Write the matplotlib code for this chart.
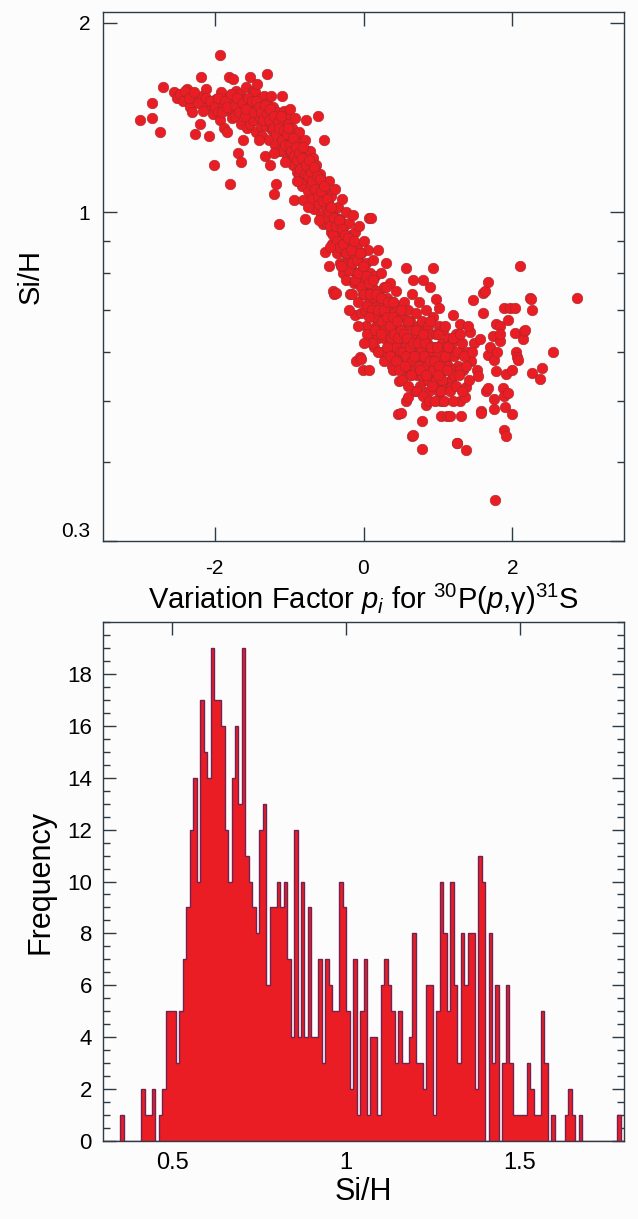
import matplotlib
matplotlib.use("Agg")
import matplotlib.pyplot as plt
from matplotlib.ticker import NullFormatter, MultipleLocator
import numpy as np

plt.rcParams["font.family"] = ["Liberation Sans", "DejaVu Sans"]
plt.rcParams["mathtext.fontset"] = "custom"
plt.rcParams["mathtext.rm"] = "Liberation Sans"
plt.rcParams["mathtext.it"] = "Liberation Sans:italic"
plt.rcParams["axes.unicode_minus"] = False

# ---- top panel: Si/H against variation factor p_i ----
pts_far_left = [
    (-3.00, 1.40), (-2.84, 1.49), (-2.84, 1.41), (-2.74, 1.34), (-2.70, 1.58),
    (-2.55, 1.55), (-2.51, 1.52), (-2.47, 1.54), (-2.42, 1.50), (-2.37, 1.57),
    (-2.33, 1.47), (-2.30, 1.44), (-2.27, 1.33), (-2.25, 1.52), (-2.20, 1.38),
    (-2.19, 1.64), (-2.17, 1.53), (-2.14, 1.49), (-2.11, 1.57), (-2.08, 1.32),
    (-2.05, 1.46), (-2.02, 1.43), (-2.01, 1.19), (-1.98, 1.51),
    (-2.40, 1.56), (-2.35, 1.52), (-2.28, 1.55), (-2.22, 1.49), (-2.16, 1.45),
    (-2.12, 1.52), (-2.06, 1.50), (-2.00, 1.47),
]
pts_left = [
    (-1.96, 1.44), (-1.93, 1.40), (-1.93, 1.78), (-1.91, 1.55), (-1.89, 1.48),
    (-1.87, 1.36), (-1.84, 1.34), (-1.82, 1.52), (-1.81, 1.64), (-1.80, 1.45),
    (-1.79, 1.11), (-1.77, 1.41), (-1.75, 1.63), (-1.74, 1.50), (-1.73, 1.42),
    (-1.71, 1.56), (-1.69, 1.24), (-1.68, 1.47), (-1.66, 1.54), (-1.65, 1.38),
    (-1.64, 1.20), (-1.63, 1.44), (-1.62, 1.30), (-1.61, 1.51), (-1.60, 1.47),
    (-1.58, 1.58), (-1.57, 1.36), (-1.55, 1.42), (-1.53, 1.38), (-1.52, 1.64),
    (-1.51, 1.49), (-1.50, 1.45), (-1.49, 1.56), (-1.48, 1.40), (-1.46, 1.55),
    (-1.45, 1.34), (-1.44, 1.48), (-1.43, 1.60), (-1.42, 1.43), (-1.40, 1.42),
    (-1.39, 1.51), (-1.38, 1.37), (-1.37, 1.32), (-1.36, 1.46), (-1.34, 1.53),
    (-1.33, 1.23), (-1.32, 1.41), (-1.31, 1.37), (-1.30, 1.66), (-1.29, 1.49),
    (-1.28, 1.44), (-1.27, 1.30), (-1.26, 1.19), (-1.25, 1.39), (-1.24, 1.53),
    (-1.23, 1.35), (-1.22, 1.42), (-1.21, 1.47), (-1.20, 1.07), (-1.19, 1.28),
    (-1.18, 1.38), (-1.17, 1.11), (-1.16, 1.44), (-1.15, 1.33), (-1.14, 1.25),
    (-1.13, 0.956), (-1.12, 1.40), (-1.11, 1.31), (-1.10, 1.53), (-1.09, 1.36),
    (-1.08, 1.25), (-1.07, 1.45), (-1.06, 1.29), (-1.05, 1.34), (-1.04, 1.42),
    (-1.03, 1.22), (-1.02, 1.38), (-1.01, 1.27), (-1.00, 1.32),
    (-1.95, 1.52), (-1.90, 1.44), (-1.86, 1.50), (-1.83, 1.47), (-1.78, 1.54),
    (-1.72, 1.48), (-1.70, 1.52), (-1.67, 1.44), (-1.62, 1.49), (-1.59, 1.42),
]
pts_mid_left = [
    (-0.99, 1.46), (-0.98, 1.24), (-0.97, 1.32), (-0.96, 1.36), (-0.95, 1.19),
    (-0.94, 1.28), (-0.93, 1.045), (-0.92, 1.41), (-0.91, 1.22), (-0.90, 1.30),
    (-0.89, 1.16), (-0.88, 1.26), (-0.87, 1.34), (-0.86, 1.14), (-0.85, 1.21),
    (-0.84, 1.29), (-0.83, 1.10), (-0.82, 1.24), (-0.81, 1.045), (-0.80, 1.18),
    (-0.79, 0.975), (-0.79, 1.30), (-0.78, 1.13), (-0.77, 1.40), (-0.76, 1.21),
    (-0.75, 1.08), (-0.74, 1.25), (-0.73, 1.16), (-0.72, 1.25), (-0.71, 1.11),
    (-0.70, 1.19), (-0.69, 1.05), (-0.68, 1.22), (-0.67, 1.13), (-0.66, 1.01),
    (-0.65, 1.17), (-0.64, 1.19), (-0.63, 1.08), (-0.62, 1.13), (-0.61, 1.42),
    (-0.60, 1.03), (-0.59, 1.10), (-0.58, 1.15), (-0.57, 0.99), (-0.56, 1.06),
    (-0.55, 0.956), (-0.54, 1.12), (-0.53, 1.30), (-0.52, 0.863), (-0.51, 1.02),
    (-0.50, 1.08),
]
pts_centre = [
    (-0.49, 0.96), (-0.48, 1.04), (-0.47, 1.12), (-0.46, 0.82), (-0.45, 0.99),
    (-0.44, 0.93), (-0.43, 1.06), (-0.42, 0.89), (-0.41, 0.75), (-0.41, 1.01),
    (-0.40, 0.95), (-0.39, 0.74), (-0.38, 1.09), (-0.37, 0.745), (-0.37, 0.91),
    (-0.36, 0.98), (-0.35, 0.86), (-0.34, 1.02), (-0.33, 0.93), (-0.32, 0.83),
    (-0.31, 0.97), (-0.30, 0.88), (-0.29, 1.05), (-0.28, 0.92), (-0.27, 0.80),
    (-0.26, 0.95), (-0.25, 0.86), (-0.24, 1.00), (-0.23, 0.78), (-0.22, 0.90),
    (-0.21, 0.84), (-0.20, 0.96), (-0.19, 0.85), (-0.18, 0.74), (-0.17, 0.92),
    (-0.16, 0.81), (-0.15, 0.88), (-0.14, 0.99), (-0.13, 0.77), (-0.12, 0.686),
    (-0.12, 0.85), (-0.11, 0.93), (-0.10, 0.58), (-0.10, 0.80), (-0.09, 0.88),
    (-0.08, 0.72), (-0.07, 0.84), (-0.06, 0.95), (-0.05, 0.589), (-0.05, 0.77),
    (-0.04, 0.69), (-0.03, 0.585), (-0.03, 0.86), (-0.02, 0.81), (-0.01, 0.56),
    (-0.01, 0.74), (0.00, 0.90),
]
pts_mid_right = [
    (0.01, 0.78), (0.02, 0.70), (0.03, 0.83), (0.04, 0.66), (0.05, 0.75),
    (0.06, 0.87), (0.07, 0.98), (0.07, 0.56), (0.08, 0.72), (0.09, 0.80),
    (0.10, 0.64), (0.10, 0.98), (0.11, 0.76), (0.12, 0.69), (0.13, 0.84),
    (0.14, 0.61), (0.15, 0.73), (0.16, 0.79), (0.17, 0.66), (0.18, 0.71),
    (0.19, 0.87), (0.20, 0.63), (0.21, 0.75), (0.22, 0.68), (0.23, 0.80),
    (0.24, 0.60), (0.25, 0.72), (0.26, 0.66), (0.27, 0.76), (0.28, 0.63),
    (0.29, 0.69), (0.30, 0.83), (0.31, 0.59), (0.32, 0.73), (0.33, 0.65),
    (0.34, 0.70), (0.35, 0.62), (0.36, 0.77), (0.37, 0.67), (0.38, 0.57),
    (0.39, 0.72), (0.40, 0.64), (0.41, 0.69), (0.42, 0.60), (0.43, 0.75),
    (0.44, 0.66), (0.45, 0.62), (0.46, 0.477), (0.47, 0.71), (0.48, 0.538),
    (0.49, 0.65), (0.50, 0.59),
]
pts_right = [
    (0.51, 0.48), (0.52, 0.68), (0.53, 0.63), (0.54, 0.56), (0.55, 0.72),
    (0.56, 0.61), (0.57, 0.815), (0.57, 0.50), (0.58, 0.66), (0.59, 0.58),
    (0.60, 0.508), (0.60, 0.70), (0.61, 0.63), (0.62, 0.55), (0.63, 0.67),
    (0.64, 0.60), (0.65, 0.44), (0.65, 0.74), (0.66, 0.78), (0.66, 0.442),
    (0.67, 0.57), (0.68, 0.64), (0.69, 0.52), (0.70, 0.69), (0.71, 0.61),
    (0.72, 0.55), (0.73, 0.66), (0.74, 0.59), (0.75, 0.72), (0.76, 0.53),
    (0.77, 0.63), (0.78, 0.465), (0.78, 0.42), (0.78, 0.57), (0.79, 0.67),
    (0.80, 0.78), (0.80, 0.60), (0.81, 0.54), (0.82, 0.65), (0.83, 0.58),
    (0.84, 0.493), (0.84, 0.70), (0.85, 0.62), (0.86, 0.56), (0.87, 0.66),
    (0.88, 0.52), (0.89, 0.76), (0.89, 0.60), (0.90, 0.64), (0.91, 0.55),
    (0.92, 0.58), (0.93, 0.815), (0.94, 0.68), (0.95, 0.61), (0.96, 0.53),
    (0.97, 0.64), (0.98, 0.727), (0.99, 0.57), (1.00, 0.60),
]
pts_far_right = [
    (1.01, 0.66), (1.02, 0.704), (1.02, 0.518), (1.03, 0.55), (1.04, 0.474),
    (1.04, 0.50), (1.05, 0.62), (1.06, 0.58), (1.07, 0.65), (1.08, 0.56),
    (1.09, 0.61), (1.10, 0.53), (1.11, 0.581), (1.12, 0.474), (1.13, 0.63),
    (1.14, 0.57), (1.15, 0.60), (1.16, 0.474), (1.17, 0.54), (1.18, 0.528),
    (1.19, 0.62), (1.20, 0.686), (1.20, 0.552), (1.22, 0.59), (1.24, 0.64),
    (1.25, 0.43), (1.26, 0.43), (1.27, 0.57), (1.29, 0.665), (1.29, 0.60),
    (1.29, 0.50), (1.31, 0.474), (1.32, 0.62), (1.34, 0.56), (1.36, 0.508),
    (1.38, 0.528), (1.38, 0.418), (1.40, 0.60), (1.43, 0.644), (1.45, 0.58),
    (1.47, 0.724), (1.48, 0.62),
    (1.52, 0.56), (1.54, 0.549), (1.56, 0.628), (1.58, 0.483), (1.58, 0.48),
    (1.61, 0.69), (1.61, 0.745), (1.63, 0.75), (1.64, 0.52), (1.67, 0.774),
    (1.67, 0.592), (1.67, 0.525), (1.70, 0.61), (1.74, 0.636), (1.76, 0.581),
    (1.76, 0.505), (1.76, 0.486), (1.77, 0.349), (1.78, 0.558), (1.78, 0.664),
    (1.80, 0.60), (1.83, 0.624), (1.83, 0.66), (1.84, 0.64), (1.87, 0.525),
    (1.89, 0.703), (1.89, 0.45), (1.89, 0.51), (1.90, 0.49), (1.92, 0.552),
    (1.92, 0.44), (1.94, 0.673), (1.94, 0.515), (1.97, 0.703), (1.99, 0.56),
    (2.00, 0.477), (2.03, 0.704), (2.03, 0.643), (2.05, 0.60), (2.06, 0.588),
    (2.08, 0.581), (2.10, 0.82), (2.14, 0.628), (2.16, 0.647), (2.17, 0.65),
    (2.24, 0.73), (2.25, 0.727), (2.26, 0.70), (2.26, 0.555), (2.37, 0.542),
    (2.40, 0.565), (2.55, 0.60), (2.87, 0.73),
]
# the solid core of the band
pts_core = [
    (-1.58, 1.46), (-1.55, 1.52), (-1.50, 1.50), (-1.47, 1.44), (-1.45, 1.50),
    (-1.41, 1.47), (-1.38, 1.44), (-1.35, 1.40), (-1.33, 1.48), (-1.30, 1.43),
    (-1.27, 1.40), (-1.25, 1.46), (-1.22, 1.36), (-1.20, 1.42), (-1.18, 1.33),
    (-1.15, 1.39), (-1.13, 1.36), (-1.11, 1.42), (-1.09, 1.30), (-1.07, 1.35),
    (-1.05, 1.28), (-1.03, 1.33), (-1.01, 1.36), (-0.99, 1.28), (-0.97, 1.25),
    (-0.95, 1.31), (-0.93, 1.23), (-0.91, 1.27), (-0.89, 1.21), (-0.87, 1.24),
    (-0.85, 1.17), (-0.83, 1.22), (-0.81, 1.27), (-0.79, 1.15), (-0.77, 1.19),
    (-0.75, 1.14), (-0.73, 1.21), (-0.71, 1.16), (-0.69, 1.12), (-0.67, 1.18),
    (-0.65, 1.09), (-0.63, 1.14), (-0.61, 1.06), (-0.59, 1.13), (-0.57, 1.08),
    (-0.55, 1.04), (-0.53, 1.10), (-0.51, 0.98), (-0.49, 1.05), (-0.47, 1.00),
    (-0.45, 0.95), (-0.43, 1.02), (-0.41, 0.92), (-0.39, 0.98), (-0.37, 0.95),
    (-0.35, 0.90), (-0.33, 0.97), (-0.31, 0.88), (-0.29, 0.94), (-0.27, 0.89),
    (-0.25, 0.92), (-0.23, 0.86), (-0.21, 0.91), (-0.19, 0.81), (-0.17, 0.87),
    (-0.15, 0.83), (-0.13, 0.90), (-0.11, 0.78), (-0.09, 0.84), (-0.07, 0.80),
    (-0.05, 0.86), (-0.03, 0.76), (-0.01, 0.82), (0.01, 0.74), (0.03, 0.79),
    (0.05, 0.71), (0.07, 0.77), (0.09, 0.74), (0.11, 0.70), (0.13, 0.78),
    (0.15, 0.68), (0.17, 0.74), (0.19, 0.70), (0.21, 0.66), (0.23, 0.73),
    (0.25, 0.67), (0.27, 0.70), (0.29, 0.65), (0.31, 0.68), (0.33, 0.72),
    (0.35, 0.66), (0.37, 0.63), (0.39, 0.68), (0.41, 0.64), (0.43, 0.61),
    (0.45, 0.67), (0.47, 0.63), (0.49, 0.60), (0.51, 0.65), (0.53, 0.60),
    (0.55, 0.64), (0.57, 0.59), (0.59, 0.63), (0.61, 0.57), (0.63, 0.61),
    (0.65, 0.58), (0.67, 0.62), (0.69, 0.56), (0.71, 0.59), (0.73, 0.62),
    (0.75, 0.57), (0.77, 0.60), (0.79, 0.55), (0.81, 0.59), (0.83, 0.62),
    (0.85, 0.57), (0.87, 0.54), (0.89, 0.58), (0.91, 0.61), (0.93, 0.56),
    (0.95, 0.58), (0.97, 0.54), (0.99, 0.61), (1.02, 0.57), (1.06, 0.54),
    (1.10, 0.59), (1.14, 0.61), (1.18, 0.56), (1.22, 0.55), (1.26, 0.60),
    (1.30, 0.56), (1.35, 0.59),
]
# lower and upper fringes of the band, where it is still nearly solid
pts_fringe = [
    (0.05, 0.64), (0.08, 0.68), (0.12, 0.62), (0.16, 0.65), (0.20, 0.60),
    (0.24, 0.64), (0.28, 0.58), (0.32, 0.61), (0.36, 0.59), (0.40, 0.56),
    (0.44, 0.58), (0.48, 0.56), (0.52, 0.54), (0.56, 0.57), (0.60, 0.53),
    (0.64, 0.55), (0.68, 0.59), (0.72, 0.52), (0.76, 0.56), (0.80, 0.51),
    (0.84, 0.55), (0.88, 0.50), (0.92, 0.53), (0.96, 0.50), (1.00, 0.55),
    (1.04, 0.52), (1.08, 0.50), (1.12, 0.56), (1.16, 0.52), (1.20, 0.50),
    (1.24, 0.53), (1.28, 0.55), (1.33, 0.52), (1.38, 0.57), (1.42, 0.54),
    (1.46, 0.60), (0.30, 0.76), (0.40, 0.72), (0.50, 0.70), (0.60, 0.67),
    (0.70, 0.65), (0.80, 0.64), (0.90, 0.67), (1.00, 0.64), (1.10, 0.66),
    (1.20, 0.63), (1.30, 0.64), (1.40, 0.66), (-0.20, 0.70), (-0.15, 0.74),
    (-0.08, 0.66), (0.00, 0.62), (-0.30, 0.82), (-0.45, 0.88), (-0.60, 0.97),
    (-0.75, 1.02), (-0.90, 1.12), (-1.05, 1.20), (-1.20, 1.24), (-1.40, 1.30),
]

scatter_xticks = [-2, 0, 2]
scatter_yticks = [0.3, 1, 2]
scatter_yticklabels = ["0.3", "1", "2"]
scatter_yminor = [0.4, 0.5, 0.6, 0.7, 0.8, 0.9]

# ---- bottom panel: histogram of Si/H, counts per 0.01 bin from 0.30 to 1.80 ----
counts_030 = [0, 0, 0, 0, 0, 1, 0, 0, 0, 0]
counts_040 = [0, 2, 1, 1, 2, 0, 1, 2, 5, 5]
counts_050 = [5, 3, 5, 7, 9, 12, 14, 10, 17, 15]
counts_060 = [14, 19, 17, 17, 16, 12, 10, 14, 16, 13]
counts_070 = [19, 11, 10, 9, 8, 12, 13, 6, 9, 9]
counts_080 = [10, 9, 10, 7, 4, 12, 4, 10, 4, 9]
counts_090 = [4, 4, 7, 3, 7, 6, 5, 5, 10, 9]
counts_100 = [5, 2, 7, 1, 5, 7, 1, 4, 4, 1]
counts_110 = [6, 7, 6, 5, 3, 5, 3, 3, 4, 8]
counts_120 = [3, 3, 2, 6, 6, 1, 5, 10, 8, 5]
counts_130 = [10, 6, 3, 8, 6, 8, 8, 2, 11, 10]
counts_140 = [0, 8, 3, 6, 0, 3, 6, 3, 1, 1]
counts_150 = [1, 1, 3, 2, 1, 1, 5, 3, 0, 1]
counts_160 = [0, 0, 0, 1, 2, 1, 0, 1, 0, 0]
counts_170 = [0, 0, 0, 0, 0, 0, 0, 0, 1, 0]
hist_xticks = [0.5, 1, 1.5]
hist_xticklabels = ["0.5", "1", "1.5"]
hist_yticks = [0, 2, 4, 6, 8, 10, 12, 14, 16, 18]

RED = "#ea1d25"
PURPLE = "#6e2352"
FRAME = "#2e3b45"
BG = "#fcfcfc"


def style_axis(ax, major_len, minor_len, size, pad):
    for sp in ax.spines.values():
        sp.set_color(FRAME)
        sp.set_linewidth(1.0)
    ax.set_facecolor(BG)
    ax.tick_params(which="both", direction="in", top=True, right=True,
                   color=FRAME, width=1.0, labelsize=size, pad=pad)
    ax.tick_params(which="major", length=major_len)
    ax.tick_params(which="minor", length=minor_len)


def main():
    fig = plt.figure(figsize=(6.38, 12.19), dpi=100)
    fig.patch.set_facecolor(BG)

    pts = (pts_far_left + pts_left + pts_mid_left + pts_centre + pts_mid_right
           + pts_right + pts_far_right + pts_core + pts_fringe)
    px = [p[0] for p in pts]
    py = [p[1] for p in pts]

    ax1 = fig.add_axes([103 / 638, 1 - 541 / 1219, 521 / 638, 529 / 1219])
    ax1.scatter(px, py, s=58, color=RED, edgecolors="#a02a2a", linewidths=0.4, zorder=3)
    ax1.set_yscale("log")
    ax1.set_xlim(-3.5, 3.5)
    ax1.set_ylim(0.3, 2.08)
    ax1.set_xticks(scatter_xticks)
    ax1.set_xticklabels([str(t) for t in scatter_xticks])
    ax1.set_yticks(scatter_yticks)
    ax1.set_yticklabels(scatter_yticklabels)
    ax1.set_yticks(scatter_yminor, minor=True)
    ax1.yaxis.set_minor_formatter(NullFormatter())
    ax1.xaxis.set_minor_locator(plt.NullLocator())
    style_axis(ax1, 10, 5, 15, 9)
    ax1.tick_params(axis="x", pad=13)
    ax1.get_yticklabels()[0].set_verticalalignment("bottom")
    ax1.set_ylabel("Si/H", fontsize=21, labelpad=12)
    ax1.set_xlabel(r"Variation Factor $p_i$ for $^{30}$P($p$,γ)$^{31}$S", fontsize=21, labelpad=3)

    counts = (counts_030 + counts_040 + counts_050 + counts_060 + counts_070 + counts_080
              + counts_090 + counts_100 + counts_110 + counts_120 + counts_130 + counts_140
              + counts_150 + counts_160 + counts_170)
    edges = np.round(np.linspace(0.30, 1.80, len(counts) + 1), 3)

    ax2 = fig.add_axes([103 / 638, 1 - 1141 / 1219, 521 / 638, 519 / 1219])
    ax2.stairs(counts, edges, fill=True, color=RED, zorder=2)
    ax2.stairs(counts, edges, color=PURPLE, linewidth=1.0, zorder=3)
    ax2.set_xlim(0.3, 1.8)
    ax2.set_ylim(0, 20)
    ax2.set_xticks(hist_xticks)
    ax2.set_xticklabels(hist_xticklabels)
    ax2.set_yticks(hist_yticks)
    ax2.yaxis.set_minor_locator(MultipleLocator(0.5))
    ax2.xaxis.set_minor_locator(plt.NullLocator())
    style_axis(ax2, 9, 5, 16, 8)
    ax2.tick_params(axis="x", labelsize=17)
    ax2.set_ylabel("Frequency", fontsize=22, labelpad=8)
    ax2.set_xlabel("Si/H", fontsize=22, labelpad=2)

    fig.savefig("out.png", dpi=100, facecolor=BG)


if __name__ == "__main__":
    main()
